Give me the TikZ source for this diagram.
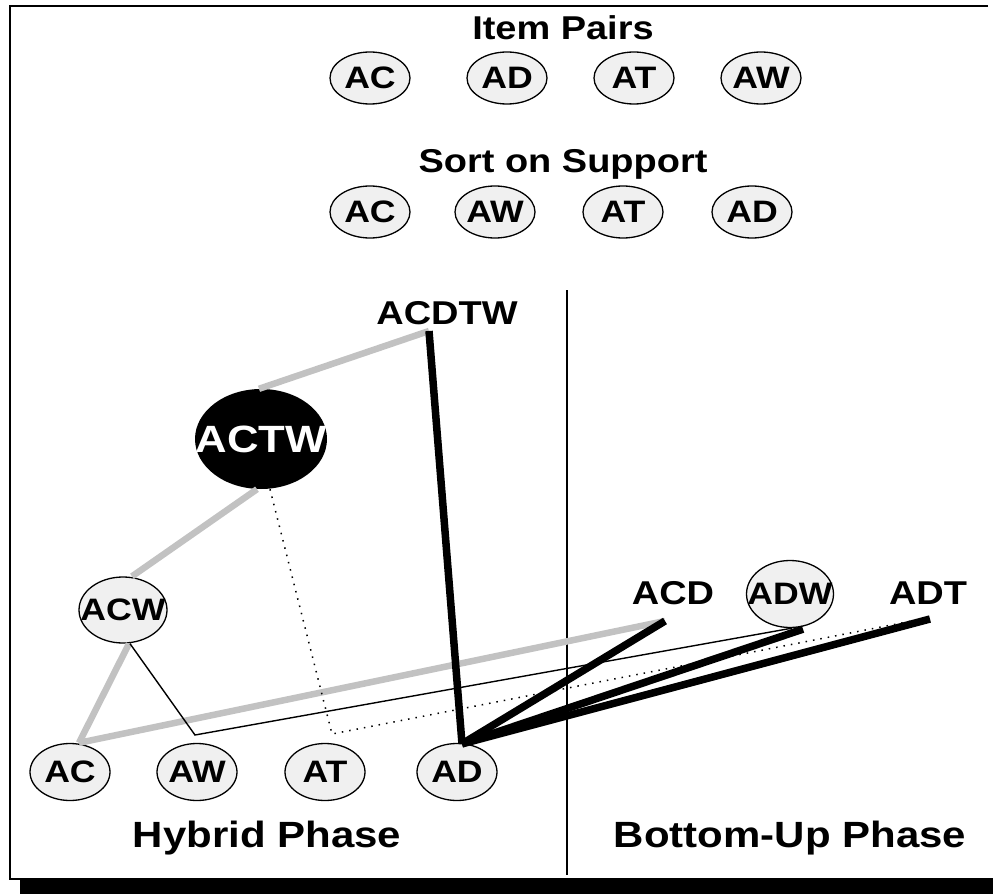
\documentclass[tikz,border=0pt]{standalone}
\usepackage{fontspec}
\setmainfont{Liberation Sans}[FakeStretch=1.15]
\usetikzlibrary{shapes.geometric}
\newcommand{\labfont}{\bfseries\fontsize{31}{31}\selectfont}
\newcommand{\tagfont}{\bfseries\fontsize{33}{33}\selectfont}
\newcommand{\bigfont}{\bfseries\fontsize{38}{38}\selectfont}
\newcommand{\ttlfont}{\bfseries\fontsize{33}{33}\selectfont}
\newcommand{\phfont}{\bfseries\fontsize{36.5}{36.5}\selectfont}
\begin{document}
\begin{tikzpicture}[x=1pt,y=-1pt,
  oval/.style={ellipse, draw=black, line width=1.3pt, fill=black!6, inner sep=0pt,
    minimum width=80pt, minimum height=52pt,
    label={[inner sep=0pt, font=\labfont]center:#1}},
  tagtext/.style={inner sep=0pt, font=\tagfont},
  title/.style={inner sep=0pt, anchor=base, font=\ttlfont},
  phase/.style={inner sep=0pt, anchor=base, font=\phfont},
  gline/.style={line width=6.5pt, draw=black!24},
  kline/.style={line width=7.5pt, draw=black},
  tline/.style={line width=1.4pt, draw=black},
  dline/.style={line width=1.5pt, draw=black, dash pattern=on 1.5pt off 6pt},
  frameline/.style={line width=2.4pt, draw=black}]
\useasboundingbox (0,0) rectangle (993,896);
% frame and shadow
\draw[frameline] (988,6) -- (10,6) -- (10,879) -- (993,879);
\fill[black] (20,880) rectangle (993,894);
% divider
\draw[line width=1.5pt] (567,290) -- (567,875);
% titles
\node[title] (tPairs) at (563,40) {Item Pairs};
\node[title] (tSort) at (563,173) {Sort on Support};
\node[phase] (tHybrid) at (267,847) {Hybrid Phase};
\node[phase] (tBottom) at (790,847) {Bottom-Up Phase};
% row 1
\node[oval=AC] (p1) at (370,78) {};
\node[oval=AD] (p2) at (507,78) {};
\node[oval=AT] (p3) at (634,78) {};
\node[oval=AW] (p4) at (761,78) {};
% row 2
\node[oval=AC] (s1) at (370,212) {};
\node[oval=AW] (s2) at (495,212) {};
\node[oval=AT] (s3) at (623,212) {};
\node[oval=AD] (s4) at (752,212) {};
% bottom row
\node[oval=AC, minimum height=57pt] (bAC) at (70,772) {};
\node[oval=AW, minimum height=57pt] (bAW) at (197,772) {};
\node[oval=AT, minimum height=57pt] (bAT) at (325,772) {};
\node[oval=AD, minimum height=57pt] (bAD) at (457,772) {};
% upper lattice nodes
\node[tagtext] (ACDTW) at (447,313) {ACDTW};
\node[ellipse, fill=black, inner sep=0pt, minimum width=132pt, minimum height=100pt,
      label={[inner sep=0pt, text=white, font=\bigfont]center:ACTW}] (ACTW) at (261,439) {};
\node[oval=ACW, minimum width=88pt, minimum height=66pt] (ACW) at (123,610) {};
\node[tagtext] (ACD) at (673,593) {ACD};
\node[oval=ADW, minimum width=87pt, minimum height=67pt] (ADW) at (790,594) {};
\node[tagtext] (ADT) at (928,593) {ADT};
% connector end points and bends
\coordinate (eACDTW) at (429,331);
\coordinate (eACD) at (665,621);
\coordinate (eADT) at (930,619);
\coordinate (kAW) at (195,735);
\coordinate (kAT) at (332,734);
% gray lines
\draw[gline] ([xshift=-2pt]ACTW.north) -- (eACDTW);
\draw[gline] ([xshift=-4pt]ACTW.south) -- ([xshift=9pt]ACW.north);
\draw[gline] ([xshift=6pt]ACW.south) -- ([xshift=9pt]bAC.north);
\draw[gline] ([xshift=9pt]bAC.north) -- (eACD);
% thin lines
\draw[tline] ([xshift=7pt]ACW.south) -- (kAW) -- ([xshift=2pt]ADW.south);
\draw[dline] ([xshift=9pt]ACTW.south) -- (kAT) -- ([xshift=-8pt]eADT);
% thick black lines
\draw[kline] (eACDTW) -- ([xshift=5pt,yshift=-1pt]bAD.north);
\draw[kline] ([xshift=5pt,yshift=-1pt]bAD.north) -- (eACD);
\draw[kline] ([xshift=5pt,yshift=-1pt]bAD.north) -- ([xshift=13pt,yshift=-1pt]ADW.south);
\draw[kline] ([xshift=5pt,yshift=-1pt]bAD.north) -- (eADT);
\end{tikzpicture}
\end{document}
